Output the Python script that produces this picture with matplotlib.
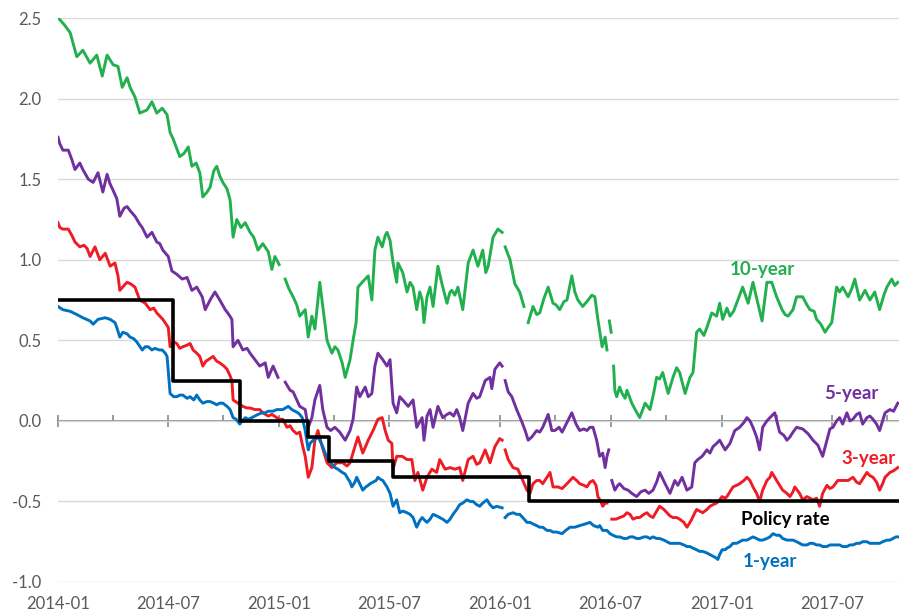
import numpy as np
import matplotlib
matplotlib.use("Agg")
import matplotlib.pyplot as plt
import matplotlib.dates as mdates
from matplotlib.ticker import FormatStrFormatter

plt.rcParams['font.family'] = ['Lato', 'DejaVu Sans']
plt.rcParams['axes.unicode_minus'] = False

nan = np.nan
start = np.datetime64('2014-01-01')

# ---- data: day offsets from 2014-01-01 and yields (%) ----
y10_days = [0, 3, 10, 20, 31, 41, 53, 64, 73, 81, 91, 99, 106, 114, 119, 127, 135, 147, 155, 163, 172, 180, 185, 190,
            201, 208, 215, 221, 228, 234, 239, 246, 251, 257, 262, 267, 272, 279, 284, 289, 295, 302, 309, 317, 323,
            330, 338, 347, 353, 358, 365, 370, 375, 381, 388, 394, 399, 408, 413, 419, 424, 432, 437, 444, 452, 457,
            462, 469, 474, 482, 487, 492, 495, 502, 507, 512, 518, 523, 528, 535, 540, 543, 548, 553, 559, 561, 569,
            576, 581, 586, 592, 597, 601, 604, 609, 614, 619, 627, 635, 642, 647, 650, 655, 660, 668, 677, 685, 693,
            701, 706, 710, 718, 726, 733, 735, 738, 746, 754, 762, 769, 772, 776, 784, 790, 795, 802, 809, 817, 822,
            828, 835, 840, 848, 853, 858, 866, 875, 881, 886, 891, 898, 903, 906, 908, 910, 913, 915, 917, 919, 922,
            927, 931, 936, 939, 944, 947, 954, 960, 969, 977, 983, 988, 993, 998, 1007, 1015, 1021, 1026, 1035, 1043,
            1048, 1054, 1059, 1066, 1071, 1079, 1087, 1092, 1097, 1104, 1109, 1115, 1120, 1125, 1130, 1139, 1147,
            1155, 1162, 1170, 1178, 1186, 1195, 1200, 1205, 1213, 1219, 1229, 1236, 1241, 1248, 1252, 1259, 1266,
            1271, 1277, 1285, 1290, 1295, 1304, 1310, 1315, 1323, 1332, 1340, 1348, 1356, 1363, 1368, 1376, 1381, 1386]
y10_vals = [2.50, 2.49, 2.46, 2.41, 2.26, 2.30, 2.22, 2.27, 2.14, 2.27, 2.21, 2.20, 2.07, 2.13, 2.07, 2.01, 1.91, 1.93,
            1.98, 1.91, 1.94, 1.90, 1.79, 1.75, 1.64, 1.66, 1.70, 1.58, 1.60, 1.54, 1.39, 1.42, 1.45, 1.55, 1.58, 1.52,
            1.48, 1.44, 1.37, 1.14, 1.25, 1.20, 1.23, 1.17, 1.14, 1.06, 1.10, 1.05, 0.94, 1.02, 0.97, nan, 0.88, 0.82,
            0.77, 0.72, 0.65, 0.69, 0.52, 0.65, 0.57, 0.86, 0.71, 0.50, 0.42, 0.46, 0.44, 0.36, 0.27, 0.38, 0.50, 0.61,
            0.83, 0.86, 0.88, 0.90, 0.75, 1.06, 1.14, 1.08, 1.15, 1.17, 1.12, 0.98, 0.86, 0.98, 0.92, 0.80, 0.86, 0.83,
            0.69, 0.80, 0.75, 0.61, 0.77, 0.83, 0.71, 0.96, 0.83, 0.73, 0.80, 0.81, 0.78, 0.83, 0.69, 0.98, 1.06, 0.96,
            1.06, 0.92, 0.96, 1.14, 1.19, 1.17, nan, 1.08, 1.00, 0.85, 0.80, 0.71, nan, 0.61, 0.71, 0.66, 0.67, 0.76,
            0.83, 0.73, 0.72, 0.69, 0.74, 0.75, 0.90, 0.80, 0.75, 0.71, 0.75, 0.78, 0.77, 0.63, 0.46, 0.52, 0.44, nan,
            0.62, 0.55, nan, 0.34, 0.19, 0.15, 0.21, 0.17, 0.14, 0.19, 0.14, 0.11, 0.06, 0.02, 0.11, 0.07, 0.17, 0.27,
            0.26, 0.30, 0.17, 0.27, 0.33, 0.30, 0.17, 0.27, 0.30, 0.55, 0.57, 0.53, 0.58, 0.67, 0.65, 0.73, 0.63, 0.70,
            0.65, 0.68, 0.73, 0.78, 0.83, 0.73, 0.86, 0.73, 0.62, 0.86, 0.86, 0.77, 0.69, 0.66, 0.65, 0.69, 0.77, 0.77,
            0.72, 0.69, 0.68, 0.63, 0.60, 0.55, 0.58, 0.61, 0.83, 0.80, 0.83, 0.77, 0.82, 0.88, 0.75, 0.81, 0.75, 0.80,
            0.69, 0.78, 0.83, 0.88, 0.84, 0.86]

y5_days = [0, 3, 8, 17, 23, 28, 36, 41, 50, 58, 66, 74, 81, 86, 91, 97, 102, 109, 114, 120, 127, 135, 139, 147, 155,
           163, 168, 173, 182, 188, 196, 205, 213, 221, 229, 238, 243, 251, 259, 267, 276, 282, 287, 289, 297, 305,
           312, 317, 325, 333, 342, 347, 355, 363, 368, 375, 383, 388, 394, 399, 408, 413, 419, 424, 432, 437, 444,
           450, 457, 465, 474, 482, 487, 493, 498, 507, 512, 518, 523, 528, 536, 543, 548, 553, 559, 564, 569, 578,
           586, 592, 601, 604, 609, 614, 619, 627, 635, 642, 647, 653, 658, 663, 668, 677, 685, 691, 696, 705, 713,
           716, 721, 729, 733, 735, 738, 743, 749, 757, 766, 771, 776, 782, 790, 795, 800, 809, 815, 820, 827, 832,
           840, 848, 855, 861, 868, 873, 878, 883, 889, 894, 899, 903, 906, 909, 911, 914, 919, 924, 927, 934, 941,
           947, 955, 962, 969, 975, 982, 988, 993, 1002, 1010, 1018, 1023, 1030, 1038, 1046, 1051, 1056, 1063, 1071,
           1076, 1081, 1087, 1092, 1101, 1109, 1117, 1125, 1132, 1137, 1142, 1147, 1153, 1158, 1163, 1170, 1175,
           1183, 1191, 1198, 1203, 1208, 1213, 1219, 1229, 1238, 1246, 1254, 1262, 1267, 1274, 1279, 1285, 1290,
           1295, 1302, 1307, 1312, 1318, 1323, 1328, 1335, 1340, 1345, 1351, 1356, 1365, 1373, 1379, 1386]
y5_vals = [1.76, 1.72, 1.68, 1.68, 1.62, 1.56, 1.60, 1.56, 1.50, 1.48, 1.54, 1.42, 1.53, 1.47, 1.43, 1.38, 1.27, 1.32,
           1.33, 1.30, 1.27, 1.22, 1.20, 1.14, 1.17, 1.11, 1.10, 1.06, 1.02, 0.93, 0.91, 0.88, 0.89, 0.81, 0.83, 0.77,
           0.69, 0.75, 0.80, 0.75, 0.69, 0.66, 0.63, 0.46, 0.50, 0.44, 0.45, 0.42, 0.38, 0.34, 0.36, 0.27, 0.34, 0.27,
           nan, 0.24, 0.19, 0.18, 0.13, 0.09, 0.07, -0.04, 0.02, 0.13, 0.22, 0.07, -0.04, -0.06, -0.04, -0.07, -0.12,
           -0.06, 0.01, 0.21, 0.15, 0.21, 0.15, 0.17, 0.34, 0.42, 0.38, 0.34, 0.38, 0.11, 0.05, 0.15, 0.13, 0.09, 0.13,
           -0.04, 0.02, -0.12, 0.03, 0.07, -0.04, 0.09, 0.02, 0.04, 0.05, 0.03, 0.07, 0.02, -0.06, 0.11, 0.17, 0.14,
           0.15, 0.25, 0.27, 0.20, 0.32, 0.36, 0.34, nan, 0.25, 0.18, 0.15, 0.07, -0.01, -0.06, -0.12, -0.10, -0.06,
           -0.07, -0.04, 0.04, -0.06, -0.06, -0.04, -0.07, -0.01, 0.05, -0.02, -0.06, -0.05, -0.06, -0.04, -0.04,
           -0.12, -0.22, -0.20, -0.29, -0.22, -0.18, nan, -0.37, -0.43, -0.40, -0.39, -0.42, -0.43, -0.45, -0.47,
           -0.44, -0.43, -0.45, -0.43, -0.38, -0.32, -0.39, -0.45, -0.37, -0.40, -0.35, -0.43, -0.41, -0.26, -0.24,
           -0.22, -0.18, -0.20, -0.16, -0.14, -0.12, -0.18, -0.14, -0.06, -0.04, -0.01, 0.02, 0.00, -0.04, -0.10,
           -0.18, -0.04, 0.00, 0.02, 0.05, -0.07, -0.09, -0.12, -0.10, -0.07, -0.04, -0.05, -0.08, -0.12, -0.15,
           -0.22, -0.15, -0.05, -0.04, 0.00, 0.02, -0.02, 0.05, 0.00, 0.01, 0.04, 0.05, -0.02, 0.02, 0.03, 0.01,
           -0.02, -0.06, 0.05, 0.07, 0.06, 0.11]

y3_days = [0, 3, 8, 17, 23, 28, 36, 43, 48, 53, 61, 69, 78, 86, 94, 99, 102, 109, 114, 120, 127, 135, 144, 152, 158,
           163, 168, 173, 182, 185, 191, 196, 201, 206, 213, 218, 223, 229, 234, 239, 244, 248, 256, 262, 267, 274,
           279, 284, 287, 289, 297, 305, 312, 317, 325, 333, 338, 347, 353, 361, 366, 371, 378, 383, 388, 394, 399,
           404, 408, 413, 416, 419, 424, 429, 436, 444, 452, 460, 470, 477, 482, 490, 495, 503, 512, 520, 528, 535,
           540, 545, 551, 553, 559, 568, 576, 584, 589, 594, 602, 609, 617, 625, 630, 639, 647, 655, 663, 668, 677,
           685, 691, 696, 705, 713, 721, 729, 733, 735, 738, 743, 751, 759, 767, 774, 779, 784, 790, 795, 800, 807,
           812, 817, 825, 832, 840, 845, 850, 856, 861, 868, 873, 878, 883, 888, 891, 896, 899, 903, 906, 910, 914,
           921, 927, 934, 939, 944, 949, 955, 960, 967, 972, 977, 982, 988, 993, 1000, 1005, 1010, 1015, 1021, 1026,
           1033, 1038, 1043, 1046, 1051, 1054, 1059, 1064, 1071, 1076, 1081, 1087, 1092, 1096, 1101, 1104, 1109,
           1114, 1120, 1125, 1132, 1137, 1142, 1147, 1153, 1158, 1163, 1170, 1175, 1178, 1183, 1186, 1191, 1196,
           1203, 1208, 1213, 1216, 1224, 1229, 1236, 1241, 1246, 1252, 1257, 1262, 1269, 1274, 1279, 1287, 1295,
           1304, 1312, 1318, 1323, 1330, 1335, 1340, 1345, 1351, 1356, 1361, 1365, 1373, 1379, 1386]
y3_vals = [1.23, 1.20, 1.19, 1.19, 1.15, 1.11, 1.08, 1.09, 1.07, 1.02, 1.08, 1.00, 1.04, 0.96, 0.98, 0.90, 0.81, 0.84,
           0.86, 0.85, 0.83, 0.75, 0.73, 0.69, 0.70, 0.67, 0.65, 0.63, 0.58, 0.46, 0.49, 0.48, 0.45, 0.46, 0.47, 0.48,
           0.44, 0.42, 0.40, 0.34, 0.37, 0.38, 0.40, 0.37, 0.36, 0.34, 0.32, 0.28, 0.25, 0.13, 0.11, 0.09, 0.08, 0.08,
           0.07, 0.07, 0.05, 0.03, 0.04, 0.02, 0.01, 0.01, -0.04, -0.03, -0.06, -0.08, -0.07, -0.16, -0.22, -0.35,
           -0.32, -0.29, -0.12, -0.06, -0.16, -0.26, -0.29, -0.26, -0.26, -0.28, -0.26, -0.16, -0.10, -0.20, -0.12,
           -0.06, 0.01, 0.02, -0.06, -0.12, -0.14, -0.30, -0.22, -0.22, -0.24, -0.24, -0.37, -0.32, -0.43, -0.35,
           -0.30, -0.32, -0.24, -0.30, -0.29, -0.30, -0.29, -0.37, -0.24, -0.22, -0.27, -0.26, -0.18, -0.26, -0.16,
           -0.11, -0.12, nan, -0.18, -0.24, -0.29, -0.30, -0.37, -0.43, -0.45, -0.39, -0.37, -0.37, -0.39, -0.35,
           -0.32, -0.41, -0.41, -0.42, -0.39, -0.37, -0.35, -0.37, -0.39, -0.40, -0.41, -0.38, -0.37, -0.40, -0.47,
           -0.50, -0.53, -0.51, -0.51, nan, -0.61, -0.61, -0.60, -0.59, -0.57, -0.58, -0.61, -0.60, -0.60, -0.58,
           -0.57, -0.59, -0.60, -0.56, -0.53, -0.55, -0.57, -0.59, -0.60, -0.60, -0.61, -0.63, -0.66, -0.63, -0.61,
           -0.57, -0.55, -0.56, -0.57, -0.55, -0.53, -0.52, -0.51, -0.49, -0.47, -0.48, -0.47, -0.44, -0.41, -0.40,
           -0.39, -0.37, -0.35, -0.37, -0.41, -0.45, -0.50, -0.43, -0.37, -0.35, -0.32, -0.35, -0.37, -0.40, -0.43,
           -0.45, -0.47, -0.44, -0.41, -0.45, -0.49, -0.47, -0.48, -0.49, -0.48, -0.53, -0.45, -0.40, -0.42, -0.41,
           -0.37, -0.37, -0.37, -0.35, -0.38, -0.39, -0.35, -0.32, -0.34, -0.35, -0.38, -0.43, -0.39, -0.35, -0.32,
           -0.31, -0.29]

y1_days = [0, 8, 20, 31, 41, 53, 58, 66, 78, 86, 94, 97, 102, 107, 114, 119, 125, 130, 139, 144, 149, 155, 160, 167,
           172, 177, 180, 185, 191, 196, 201, 206, 213, 218, 224, 229, 234, 239, 246, 251, 257, 262, 267, 272, 279,
           284, 289, 294, 300, 304, 309, 314, 320, 325, 330, 337, 342, 347, 350, 355, 361, 366, 371, 380, 386, 391,
           396, 399, 403, 408, 413, 416, 421, 426, 429, 432, 437, 441, 446, 450, 457, 462, 469, 474, 477, 482, 485,
           490, 493, 498, 503, 508, 512, 515, 520, 525, 528, 531, 536, 543, 548, 553, 556, 559, 564, 569, 576, 581,
           586, 589, 592, 597, 601, 606, 609, 614, 619, 625, 630, 635, 642, 647, 652, 658, 663, 668, 675, 680, 685,
           691, 696, 701, 708, 713, 718, 724, 733, 735, 738, 743, 751, 757, 762, 767, 774, 779, 784, 790, 795, 800,
           807, 812, 817, 823, 832, 838, 845, 853, 861, 870, 878, 884, 891, 894, 899, 906, 911, 916, 922, 927, 934,
           939, 944, 949, 955, 960, 967, 972, 977, 982, 988, 993, 1000, 1005, 1010, 1015, 1021, 1026, 1033, 1038,
           1043, 1048, 1054, 1059, 1064, 1071, 1076, 1081, 1086, 1089, 1092, 1096, 1101, 1104, 1109, 1114, 1120,
           1125, 1130, 1137, 1142, 1147, 1153, 1158, 1163, 1170, 1175, 1180, 1186, 1191, 1196, 1203, 1208, 1213,
           1219, 1224, 1229, 1236, 1241, 1246, 1252, 1257, 1262, 1269, 1274, 1279, 1285, 1290, 1295, 1302, 1307,
           1312, 1318, 1323, 1328, 1335, 1340, 1345, 1351, 1356, 1361, 1368, 1373, 1378, 1383, 1386]
y1_vals = [0.71, 0.69, 0.68, 0.66, 0.64, 0.62, 0.60, 0.63, 0.64, 0.63, 0.61, 0.58, 0.52, 0.55, 0.54, 0.52, 0.51, 0.49,
           0.44, 0.46, 0.46, 0.44, 0.45, 0.44, 0.44, 0.42, 0.40, 0.17, 0.15, 0.15, 0.16, 0.16, 0.14, 0.15, 0.13, 0.16,
           0.13, 0.11, 0.12, 0.12, 0.11, 0.10, 0.11, 0.11, 0.09, 0.07, 0.02, 0.01, -0.02, 0.00, 0.02, 0.01, 0.02, 0.03,
           0.04, 0.05, 0.05, 0.06, 0.06, 0.06, 0.07, 0.07, 0.07, 0.09, 0.07, 0.06, 0.05, 0.04, 0.02, -0.06, -0.18,
           -0.14, -0.12, -0.11, -0.10, -0.12, -0.16, -0.20, -0.24, -0.26, -0.29, -0.30, -0.32, -0.33, -0.35, -0.38,
           -0.41, -0.38, -0.35, -0.39, -0.43, -0.41, -0.40, -0.39, -0.38, -0.37, -0.35, -0.36, -0.37, -0.41, -0.45,
           -0.53, -0.51, -0.49, -0.57, -0.56, -0.57, -0.58, -0.60, -0.63, -0.66, -0.62, -0.60, -0.62, -0.63, -0.61,
           -0.58, -0.59, -0.60, -0.61, -0.63, -0.61, -0.58, -0.55, -0.52, -0.51, -0.49, -0.50, -0.50, -0.52, -0.53,
           -0.51, -0.49, -0.52, -0.54, -0.53, -0.54, nan, -0.60, -0.58, -0.57, -0.58, -0.58, -0.60, -0.63, -0.63,
           -0.64, -0.65, -0.66, -0.66, -0.68, -0.68, -0.69, -0.69, -0.70, -0.68, -0.66, -0.66, -0.65, -0.64, -0.63,
           -0.65, -0.66, -0.65, -0.68, -0.68, -0.70, -0.71, -0.72, -0.72, -0.73, -0.73, -0.72, -0.72, -0.73, -0.73,
           -0.72, -0.72, -0.73, -0.72, -0.73, -0.73, -0.74, -0.75, -0.76, -0.76, -0.76, -0.76, -0.77, -0.78, -0.78,
           -0.79, -0.80, -0.81, -0.81, -0.82, -0.83, -0.84, -0.85, -0.86, -0.83, -0.80, -0.80, -0.79, -0.78, -0.76,
           -0.76, -0.75, -0.74, -0.74, -0.73, -0.72, -0.73, -0.74, -0.74, -0.73, -0.72, -0.70, -0.71, -0.71, -0.73,
           -0.74, -0.74, -0.74, -0.75, -0.76, -0.77, -0.77, -0.76, -0.76, -0.77, -0.77, -0.78, -0.78, -0.77, -0.77,
           -0.77, -0.77, -0.78, -0.78, -0.77, -0.77, -0.76, -0.76, -0.75, -0.75, -0.76, -0.76, -0.76, -0.76, -0.75,
           -0.74, -0.74, -0.73, -0.72, -0.72]

policy_dates = ['2014-01-01', '2014-07-09', '2014-10-29', '2015-02-18', '2015-03-25', '2015-07-08', '2016-02-17',
                '2017-10-20']
policy_rate = [0.75, 0.25, 0.00, -0.10, -0.25, -0.35, -0.50, -0.50]

series_names = ['10-year', '5-year', '3-year', 'Policy rate', '1-year']
y_ticks = [-1.0, -0.5, 0.0, 0.5, 1.0, 1.5, 2.0, 2.5]

# ---- styling ----
C_GREEN = '#22b04f'
C_PURPLE = '#7030a0'
C_RED = '#ee1c25'
C_BLUE = '#0070c0'
C_BLACK = '#000000'


def to_dates(days):
    return start + np.array(days).astype('timedelta64[D]')


fig = plt.figure(figsize=(8.99, 6.13), dpi=100)
ax = fig.add_axes([58 / 899, 31 / 613, 841 / 899, 0.92])

lw = 2.1
ax.plot(to_dates(y10_days), y10_vals, color=C_GREEN, lw=lw, solid_joinstyle='round')
ax.plot(to_dates(y5_days), y5_vals, color=C_PURPLE, lw=lw, solid_joinstyle='round')
ax.plot(to_dates(y3_days), y3_vals, color=C_RED, lw=lw, solid_joinstyle='round')
ax.plot(to_dates(y1_days), y1_vals, color=C_BLUE, lw=lw, solid_joinstyle='round')
ax.plot(np.array(policy_dates, dtype='datetime64[D]'), policy_rate, color=C_BLACK, lw=2.6,
        drawstyle='steps-post', zorder=5)

ax.set_xlim(np.datetime64('2014-01-01'), np.datetime64('2017-10-20'))
ax.set_ylim(-1.0, 2.5)

ax.set_yticks(y_ticks)
ax.yaxis.set_major_formatter(FormatStrFormatter('%.1f'))
ax.grid(axis='y', color='#d9d9d9', lw=1.0, zorder=0)
ax.set_axisbelow(True)
for s in ax.spines.values():
    s.set_visible(False)
ax.tick_params(axis='y', length=0, pad=12, labelsize=12, labelcolor='#595959')

ax.xaxis.set_major_locator(mdates.MonthLocator(bymonth=[1, 7]))
ax.xaxis.set_major_formatter(mdates.DateFormatter('%Y-%m'))
ax.tick_params(axis='x', length=0, pad=10, labelsize=12, labelcolor='#595959')

# zero axis line with ticks
sec = ax.secondary_xaxis(1.0 / 3.5)
sec.spines['bottom'].set_color('#808080')
sec.spines['bottom'].set_linewidth(1.2)
sec.xaxis.set_major_locator(mdates.MonthLocator(bymonth=[1, 7]))
sec.xaxis.set_minor_locator(mdates.MonthLocator(bymonth=[4, 10]))
sec.tick_params(axis='x', which='major', direction='inout', length=8, width=1.1, color='#808080',
                labelbottom=False)
sec.tick_params(axis='x', which='minor', direction='in', length=4, width=1.1, color='#808080')
sec.xaxis.set_major_formatter(plt.NullFormatter())

# series labels
lab_kw = dict(fontsize=13.5, fontweight='bold', ha='center', va='center')
ax.text(start + np.timedelta64(1162, 'D'), 0.94, series_names[0], color=C_GREEN, **lab_kw)
ax.text(start + np.timedelta64(1310, 'D'), 0.17, series_names[1], color=C_PURPLE, **lab_kw)
ax.text(start + np.timedelta64(1337, 'D'), -0.236, series_names[2], color=C_RED, **lab_kw)
ax.text(start + np.timedelta64(1201, 'D'), -0.615, series_names[3], color=C_BLACK, **lab_kw)
ax.text(start + np.timedelta64(1175, 'D'), -0.87, series_names[4], color=C_BLUE, **lab_kw)

fig.savefig('out.png', dpi=100)
